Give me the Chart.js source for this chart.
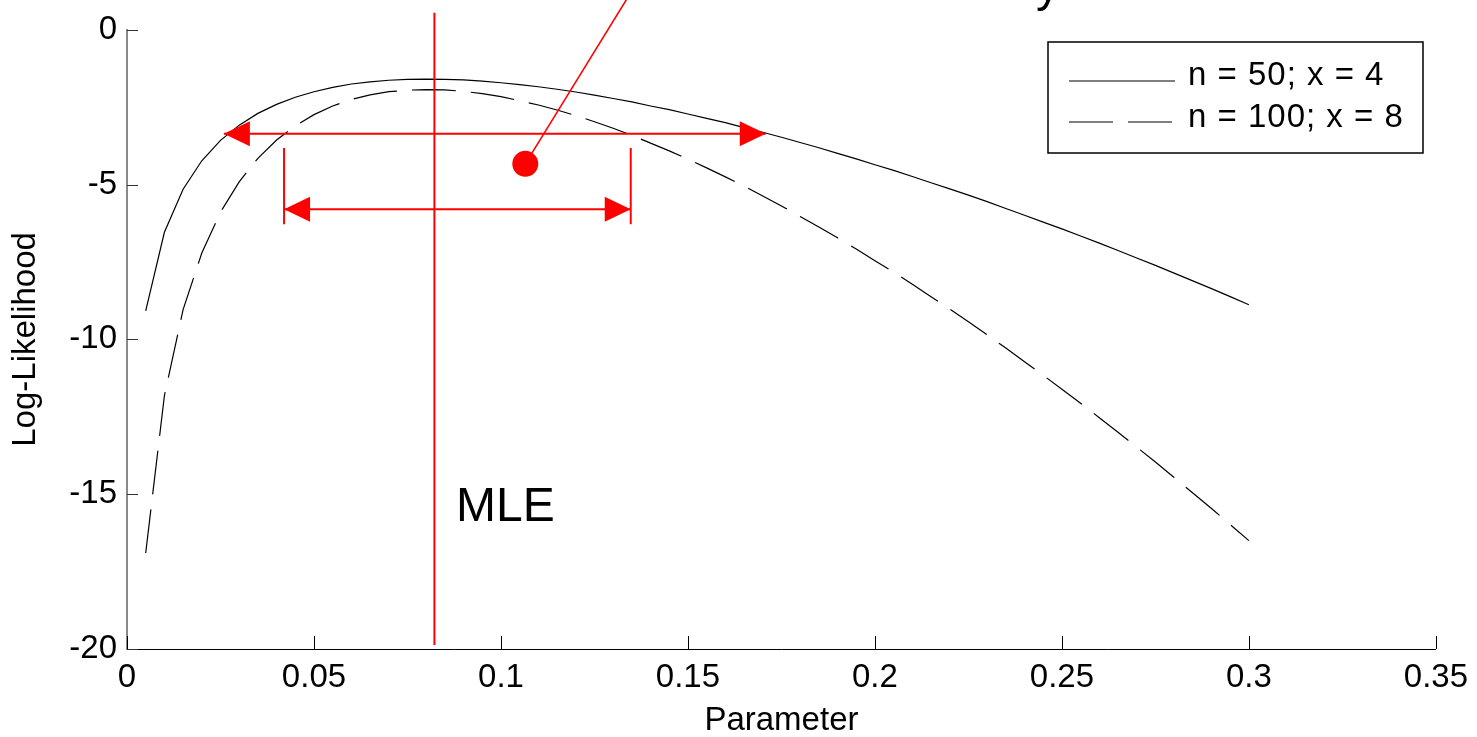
<!DOCTYPE html>
<html>
<head>
<meta charset="utf-8">
<script src="https://cdn.jsdelivr.net/npm/chart.js@4/dist/chart.umd.min.js"></script>
<style>
  html, body { margin: 0; padding: 0; background: #fff; }
  #wrap { width: 1477px; height: 737px; }
</style>
</head>
<body>
<div id="wrap"><canvas id="llChart" width="1477" height="737"></canvas></div>
<script>
// parameter grid and the two log-likelihood curves
const pVals = [0.005, 0.01, 0.015, 0.02, 0.025, 0.03, 0.035, 0.04, 0.045, 0.05,
  0.055, 0.06, 0.065, 0.07, 0.075, 0.08, 0.085, 0.09, 0.095, 0.1,
  0.105, 0.11, 0.115, 0.12, 0.125, 0.13, 0.135, 0.14, 0.145, 0.15,
  0.155, 0.16, 0.165, 0.17, 0.175, 0.18, 0.185, 0.19, 0.195, 0.2,
  0.205, 0.21, 0.215, 0.22, 0.225, 0.23, 0.235, 0.24, 0.245, 0.25,
  0.255, 0.26, 0.265, 0.27, 0.275, 0.28, 0.285, 0.29, 0.295, 0.3];

const ll50 = [-9.08, -6.54, -5.15, -4.23, -3.57, -3.08, -2.70, -2.41, -2.18, -2.00,
  -1.86, -1.75, -1.68, -1.63, -1.60, -1.59, -1.60, -1.62, -1.66, -1.71,
  -1.77, -1.84, -1.92, -2.01, -2.11, -2.22, -2.33, -2.46, -2.58, -2.72,
  -2.86, -3.00, -3.16, -3.31, -3.47, -3.64, -3.81, -3.99, -4.17, -4.36,
  -4.54, -4.74, -4.94, -5.14, -5.34, -5.55, -5.77, -5.99, -6.21, -6.43,
  -6.66, -6.89, -7.13, -7.37, -7.61, -7.86, -8.11, -8.36, -8.62, -8.88];

const ll100 = [-16.90, -11.82, -9.04, -7.21, -5.89, -4.91, -4.15, -3.56, -3.10, -2.74,
  -2.46, -2.25, -2.10, -2.00, -1.95, -1.93, -1.94, -1.99, -2.06, -2.16,
  -2.29, -2.43, -2.59, -2.77, -2.97, -3.18, -3.41, -3.66, -3.91, -4.18,
  -4.46, -4.75, -5.05, -5.37, -5.69, -6.03, -6.37, -6.72, -7.08, -7.46,
  -7.83, -8.22, -8.62, -9.02, -9.43, -9.85, -10.28, -10.72, -11.16, -11.61,
  -12.06, -12.53, -13.00, -13.48, -13.96, -14.46, -14.96, -15.46, -15.98, -16.50];

const seriesLabels = ['n = 50; x = 4', 'n = 100; x = 8'];
const xTickLabels = ['0', '0.05', '0.1', '0.15', '0.2', '0.25', '0.3', '0.35'];
const yTickLabels = ['-20', '-15', '-10', '-5', '0'];

// red annotations, in data units
const mleX = 0.0822;
const mleLineY = [0.55, -19.87];
const wideArrowX = [0.0259, 0.1708];
const wideArrowY = -3.36;
const narrowArrowX = [0.0420, 0.1347];
const narrowArrowY = -5.80;
const barY = [-3.82, -6.28];
const pointerX = [0.1065, 0.1347];
const pointerY = [-4.33, 1.2];
const mleText = { x: 0.0880, y: -15.86, text: 'MLE' };

const FONT = '"Liberation Sans", Arial, Helvetica, sans-serif';
const RED = '#ff0000';

function xy(xs, ys) {
  return xs.map((x, i) => ({ x: x, y: ys[i] }));
}

function redLine(points, width) {
  return {
    label: '', data: points, borderColor: RED, borderWidth: width,
    pointRadius: 0, clip: false, order: 1, annotation: true
  };
}

// arrowheads, MLE label, the cut-off title glyph, inward ticks
const decorPlugin = {
  id: 'decor',
  afterDatasetsDraw(chart) {
    const ctx = chart.ctx;
    const xs = chart.scales.x, ys = chart.scales.y;
    const area = chart.chartArea;

    ctx.save();
    // inward tick marks
    ctx.strokeStyle = '#000';
    ctx.lineWidth = 1;
    xs.ticks.forEach((t) => {
      const px = Math.round(xs.getPixelForValue(t.value)) + 0.5;
      ctx.beginPath();
      ctx.moveTo(px, area.bottom);
      ctx.lineTo(px, area.bottom - 13);
      ctx.stroke();
    });
    ctx.strokeStyle = '#333';
    ys.ticks.forEach((t) => {
      const py = Math.round(ys.getPixelForValue(t.value)) + 0.5;
      ctx.beginPath();
      ctx.moveTo(area.left, py);
      ctx.lineTo(area.left + 11, py);
      ctx.stroke();
    });

    // arrowheads
    ctx.fillStyle = RED;
    const head = (x, y, dir) => {
      const tx = xs.getPixelForValue(x), ty = ys.getPixelForValue(y);
      ctx.beginPath();
      ctx.moveTo(tx, ty);
      ctx.lineTo(tx - dir * 26, ty - 12.5);
      ctx.lineTo(tx - dir * 26, ty + 12.5);
      ctx.closePath();
      ctx.fill();
    };
    head(wideArrowX[0], wideArrowY, -1);
    head(wideArrowX[1], wideArrowY, 1);
    head(narrowArrowX[0], narrowArrowY, -1);
    head(narrowArrowX[1], narrowArrowY, 1);

    // MLE label
    ctx.fillStyle = '#000';
    ctx.font = '48px ' + FONT;
    ctx.textAlign = 'left';
    ctx.textBaseline = 'alphabetic';
    ctx.fillText(mleText.text, xs.getPixelForValue(mleText.x), ys.getPixelForValue(mleText.y));

    // bottom of a title that is cut off by the top edge
    ctx.fillText('y', 1036, 1);
    ctx.restore();
  },
  afterDraw(chart) {
    // boxed legend, top right
    const ctx = chart.ctx;
    const box = { left: 1048, top: 42, right: 1423, bottom: 153 };
    const rows = [{ line: 81, text: 85 }, { line: 122, text: 127 }];
    ctx.save();
    ctx.fillStyle = '#fff';
    ctx.fillRect(box.left, box.top, box.right - box.left, box.bottom - box.top);
    ctx.strokeStyle = '#000';
    ctx.lineWidth = 1.5;
    ctx.strokeRect(box.left, box.top, box.right - box.left, box.bottom - box.top);
    const curves = chart.data.datasets.filter((d) => !d.annotation);
    curves.forEach((ds, i) => {
      ctx.strokeStyle = ds.borderColor;
      ctx.lineWidth = ds.borderWidth;
      ctx.setLineDash(ds.borderDash || []);
      ctx.beginPath();
      ctx.moveTo(1069, rows[i].line);
      ctx.lineTo(1175, rows[i].line);
      ctx.stroke();
      ctx.setLineDash([]);
      ctx.fillStyle = '#000';
      ctx.font = '33px ' + FONT;
      ctx.letterSpacing = '1px';
      ctx.textAlign = 'left';
      ctx.textBaseline = 'alphabetic';
      ctx.fillText(ds.label, 1188, rows[i].text);
    });
    ctx.restore();
  }
};

const canvas = document.getElementById('llChart');
const chart = new Chart(canvas, {
  type: 'line',
  data: {
    datasets: [
      {
        label: seriesLabels[0], data: xy(pVals, ll50),
        borderColor: '#000', borderWidth: 1.2, pointRadius: 0, tension: 0, order: 2
      },
      {
        label: seriesLabels[1], data: xy(pVals, ll100),
        borderColor: '#000', borderWidth: 1.2, borderDash: [44, 15], pointRadius: 0, tension: 0, order: 2
      },
      redLine(xy([mleX, mleX], mleLineY), 2),
      redLine(xy(wideArrowX, [wideArrowY, wideArrowY]), 2),
      redLine(xy(narrowArrowX, [narrowArrowY, narrowArrowY]), 2),
      redLine(xy([narrowArrowX[0], narrowArrowX[0]], barY), 2),
      redLine(xy([narrowArrowX[1], narrowArrowX[1]], barY), 2),
      redLine(xy(pointerX, pointerY), 1.6),
      {
        label: '', data: [{ x: pointerX[0], y: pointerY[0] }], showLine: false,
        pointRadius: 13, pointBackgroundColor: RED, pointBorderColor: RED, pointBorderWidth: 0,
        clip: false, order: 1, annotation: true
      }
    ]
  },
  options: {
    responsive: false,
    animation: false,
    devicePixelRatio: 1,
    layout: { padding: { top: 26, right: 38, bottom: 0, left: 0 } },
    plugins: {
      legend: { display: false },
      tooltip: { enabled: false }
    },
    scales: {
      x: {
        type: 'linear', min: 0, max: 0.35,
        grid: { display: false, drawTicks: false },
        border: { display: true, color: '#000', width: 1 },
        ticks: {
          stepSize: 0.05, padding: 9, maxRotation: 0, autoSkip: false,
          color: '#000', font: { family: FONT, size: 33 },
          callback: (v, i) => xTickLabels[i]
        },
        title: {
          display: true, text: 'Parameter', color: '#000',
          font: { family: FONT, size: 33, lineHeight: 1 }, padding: { top: 0, bottom: 0 }
        },
        afterFit: (s) => { s.height = 88; }
      },
      y: {
        type: 'linear', min: -20, max: 0,
        grid: { display: false, drawTicks: false },
        border: { display: true, color: '#8a8a8a', width: 2 },
        ticks: {
          stepSize: 5, padding: 10,
          color: '#000', font: { family: FONT, size: 33 },
          callback: (v, i) => yTickLabels[i]
        },
        title: {
          display: true, text: 'Log-Likelihood', color: '#000',
          font: { family: FONT, size: 33, lineHeight: 1 }, padding: { top: 9, bottom: 0 }
        },
        afterFit: (s) => { s.width = 127; }
      }
    }
  },
  plugins: [decorPlugin]
});
</script>
</body>
</html>
